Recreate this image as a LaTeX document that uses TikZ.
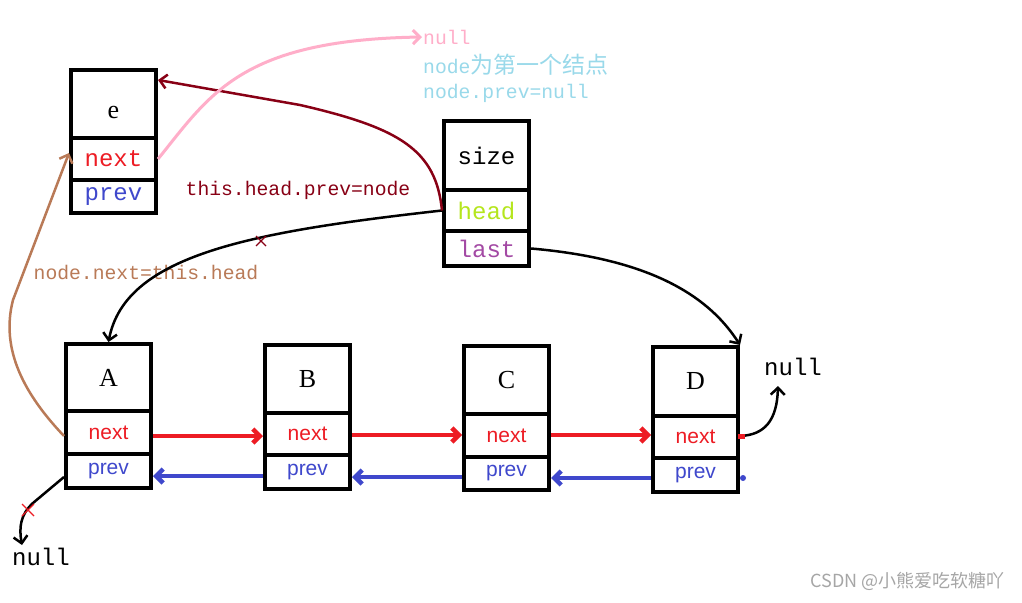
\documentclass[tikz,border=0pt]{standalone}
\usepackage{fontspec}
\setmainfont{Liberation Serif}
\newfontfamily\monof{Liberation Mono}
\newfontfamily\sansf{Liberation Sans}
\newfontfamily\cjkf{Noto Sans CJK SC}
\usetikzlibrary{arrows.meta}
\definecolor{nxred}{HTML}{ED1C24}
\definecolor{pvblue}{HTML}{3F48CC}
\definecolor{hdgreen}{HTML}{B5E61D}
\definecolor{lspurple}{HTML}{A349A4}
\definecolor{dkred}{HTML}{880015}
\definecolor{pinkc}{HTML}{FFAEC9}
\definecolor{brownc}{HTML}{B97A57}
\definecolor{ltblue}{HTML}{99D9EA}
\newcommand\fmono[1]{\monof\fontsize{#1}{#1}\selectfont}
\newcommand\fserif[1]{\fontsize{#1}{#1}\selectfont}
\newcommand\fsans[1]{\sansf\fontsize{#1}{#1}\selectfont}
\begin{document}
\begin{tikzpicture}[x=1pt,y=-1pt,
  >={Straight Barb[length=7pt,width=14pt]},
  cell/.style={draw, line width=4pt, inner sep=0pt, minimum width=85pt},
  txt/.style={inner sep=1pt},
  nxarr/.style={->, draw=nxred, line width=4.5pt},
  pvarr/.style={->, draw=pvblue, line width=4.5pt},
  blkarr/.style={->, draw=black, line width=2.5pt},
  dkarr/.style={->, draw=dkred, line width=2.5pt},
  pkarr/.style={->, draw=pinkc, line width=3pt},
  brarr/.style={->, draw=brownc, line width=2.5pt},
  lbl/.style={font=\fserif{26}},
  nx/.style={text=nxred, font=\fsans{21}},
  pv/.style={text=pvblue, font=\fsans{21}},
]
\useasboundingbox (0,0) rectangle (1022,602);
\fill[white] (0,0) rectangle (1022,602);

% ---- box e
\node[cell,minimum height=68pt,font=\fserif{26}] (eT) at (113.5,104) {\raisebox{-14pt}[0pt][0pt]{e}};
\node[cell,minimum height=42pt,text=nxred,font=\fmono{24}] (eN) at (113.5,159) {next};
\node[cell,minimum height=33pt,text=pvblue,font=\fmono{24}] (eP) at (113.5,196.5) {prev};

% ---- box size
\node[cell,minimum height=69pt,font=\fmono{24}] (S) at (486.5,155.5) {size};
\node[cell,minimum height=41pt,text=hdgreen,font=\fmono{24}] (Sh) at (486.5,210.5) {head};
\node[cell,minimum height=35pt,text=lspurple,font=\fmono{24}] (Sl) at (486.5,248.5) {last};

% ---- A
\node[cell,minimum height=67pt,lbl] (A) at (108.5,377.5) {A};
\node[cell,minimum height=43pt,nx] (An) at (108.5,432.5) {next};
\node[cell,minimum height=34pt,pv] (Ap) at (108.5,471) {prev};
% ---- B
\node[cell,minimum height=68pt,lbl] (B) at (307.5,379) {B};
\node[cell,minimum height=42pt,nx] (Bn) at (307.5,434) {next};
\node[cell,minimum height=34pt,pv] (Bp) at (307.5,472) {prev};
% ---- C
\node[cell,minimum height=68pt,lbl] (C) at (506.5,380) {C};
\node[cell,minimum height=43pt,nx] (Cn) at (506.5,435.5) {next};
\node[cell,minimum height=33pt,pv] (Cp) at (506.5,473.5) {prev};
% ---- D
\node[cell,minimum height=69pt,lbl] (D) at (695.5,381.5) {D};
\node[cell,minimum height=42pt,nx] (Dn) at (695.5,437) {next};
\node[cell,minimum height=34pt,pv] (Dp) at (695.5,475) {prev};

% ---- next arrows
\draw[nxarr] (An.east |- 0,436) -- (Bn.west |- 0,436);
\draw[nxarr] (Bn.east |- 0,435) -- (Cn.west |- 0,435);
\draw[nxarr] (Cn.east |- 0,435) -- (Dn.west |- 0,435);
% ---- prev arrows
\draw[pvarr] (Bp.west |- 0,476) -- (Ap.east |- 0,476);
\draw[pvarr] (Cp.west |- 0,477) -- (Bp.east |- 0,477);
\draw[pvarr] (Dp.west |- 0,478) -- (Cp.east |- 0,478);

% ---- texts
\node[txt,text=dkred,font=\fmono{19.7}] (t1) at (298,190) {this.head.prev=node};
\node[txt,text=brownc,font=\fmono{19.7}] (t2) at (146,272) {node.next=this.head};
\node[txt,anchor=west,text=pinkc,font=\fmono{19.7}] (nullP) at (422,37) {null};
\node[txt,anchor=west,text=ltblue,font=\fmono{19.7}] (t3) at (422,65) {node{\cjkf\fontsize{23}{23}\selectfont 为第一个结点}};
\node[txt,anchor=west,text=ltblue,font=\fmono{19.7}] (t4) at (422,93) {node.prev=null};
\node[txt,font=\fmono{24}] (nullD) at (793,367) {null};
\node[txt,font=\fmono{24}] (nullA) at (41,557) {null};
\node[txt,anchor=east,text=black!35,font=\cjkf\fontsize{18}{18}\selectfont] (wm) at (1006,581) {CSDN @小熊爱吃软糖吖};

\coordinate (nD) at (778,386);
\coordinate (nA) at (22,545);

% ---- curves
\draw[blkarr] (Sh.west) .. controls (250,232) and (125,255) .. (A.north);
\draw[blkarr] (Sl.east) .. controls (640,258) and (705,290) .. (D.north east);
\draw[dkarr] (Sh.west) .. controls (436,150) and (400,128) .. (300,105) -- (eT.east |- 0,80);
\draw[pkarr] (eN.east) .. controls (210,95) and (240,40) .. (nullP.west);
\draw[brarr] (An.west |- 0,436) .. controls (25,395) and (0,350) .. (13,300) -- (eN.west |- 0,153);
\draw[blkarr] (Dn.east |- 0,436) .. controls (765,435) and (777,420) .. (nD);
\draw[blkarr] (Ap.west |- 0,477) -- (33,503) .. controls (20,515) and (19,528) .. (nA);

% ---- marks
\draw[dkred,line width=1.3pt] (256,236)--(266,246) (256,246)--(266,236);
\draw[nxred,line width=1.3pt] (22,504)--(34,516) (22,516)--(34,504);
\fill[nxred] (738,433.5) rectangle (745,438.5);
\fill[pvblue] (743,478) circle[radius=3pt];
\end{tikzpicture}
\end{document}
